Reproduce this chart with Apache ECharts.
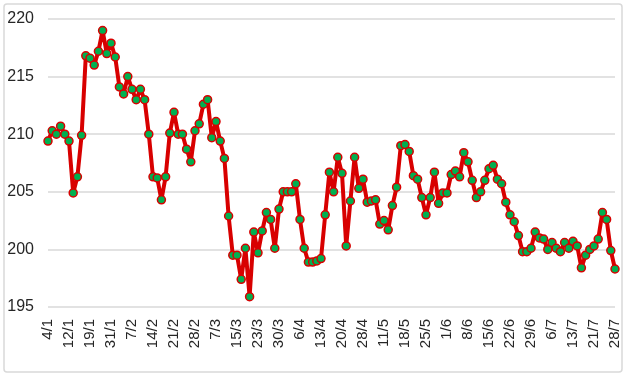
<!DOCTYPE html>
<html>
<head>
    <meta charset="UTF-8">
    <title>Weight</title>
    <script src="https://cdn.jsdelivr.net/npm/echarts@6/dist/echarts.min.js"></script>
    <style>
        body { margin: 0; background: #fff; }
        #chart { width: 628px; height: 376px; }
    </style>
</head>
<body>
    <div id="chart"></div>
    <script>
        // tick labels shown every 5th reading
        var tickLabels = ['4/1', '12/1', '19/1', '31/1', '7/2', '14/2', '21/2', '28/2', '7/3', '15/3',
            '23/3', '30/3', '6/4', '13/4', '20/4', '28/4', '11/5', '18/5', '25/5', '1/6',
            '8/6', '15/6', '22/6', '29/6', '6/7', '13/7', '21/7', '28/7'];

        // readings
        var weights = [
            209.4, 210.3, 210.0, 210.7, 210.0, 209.4, 204.9, 206.3, 209.9, 216.8,
            216.6, 216.0, 217.2, 219.0, 217.0, 217.9, 216.7, 214.1, 213.5, 215.0,
            213.9, 213.0, 213.9, 213.0, 210.0, 206.3, 206.2, 204.3, 206.3, 210.1,
            211.9, 210.0, 210.0, 208.7, 207.6, 210.3, 210.9, 212.6, 213.0, 209.7,
            211.1, 209.4, 207.9, 202.9, 199.5, 199.5, 197.4, 200.1, 195.9, 201.5,
            199.7, 201.6, 203.2, 202.6, 200.1, 203.5, 205.0, 205.0, 205.0, 205.7,
            202.6, 200.1, 198.9, 198.9, 199.0, 199.2, 203.0, 206.7, 205.0, 208.0,
            206.6, 200.3, 204.2, 208.0, 205.3, 206.1, 204.1, 204.2, 204.3, 202.2,
            202.5, 201.7, 203.8, 205.4, 209.0, 209.1, 208.5, 206.4, 206.1, 204.5,
            203.0, 204.5, 206.7, 204.0, 204.9, 204.9, 206.5, 206.8, 206.3, 208.4,
            207.6, 206.0, 204.5, 205.0, 206.0, 207.0, 207.3, 206.1, 205.7, 204.1,
            203.0, 202.4, 201.2, 199.8, 199.8, 200.1, 201.5, 201.0, 200.9, 200.0,
            200.6, 200.1, 199.8, 200.6, 200.1, 200.7, 200.3, 198.4, 199.5, 200.0,
            200.3, 200.9, 203.2, 202.6, 199.9, 198.3
        ];

        var categories = weights.map(function (_, i) {
            return i % 5 === 0 ? tickLabels[i / 5] : '';
        });

        var myChart = echarts.init(document.getElementById('chart'));
        var font = 'Arial, "Liberation Sans", sans-serif';

        var option = {
            animation: false,
            graphic: [{
                type: 'rect',
                shape: { x: 4, y: 4, width: 618, height: 368, r: 3 },
                style: { fill: 'none', stroke: '#d9d9d9', lineWidth: 1.5 },
                silent: true
            }],
            grid: { left: 48, right: 13, top: 19, bottom: 69, containLabel: false },
            xAxis: {
                type: 'category',
                data: categories,
                boundaryGap: false,
                axisLine: { show: false },
                axisTick: { show: false },
                axisLabel: {
                    interval: 4,
                    rotate: 90,
                    margin: 12,
                    fontSize: 15,
                    color: '#262626',
                    fontFamily: font
                },
                splitLine: { show: false }
            },
            yAxis: {
                type: 'value',
                min: 195,
                max: 220,
                interval: 5,
                axisLine: { show: false },
                axisTick: { show: false },
                axisLabel: { fontSize: 16, color: '#262626', margin: 14, fontFamily: font },
                splitLine: { lineStyle: { color: '#d9d9d9', width: 1.5 } }
            },
            series: [{
                type: 'line',
                data: weights,
                symbol: 'circle',
                symbolSize: 8,
                showAllSymbol: true,
                lineStyle: { color: '#d80000', width: 4 },
                itemStyle: { color: '#00b050', borderColor: '#d80000', borderWidth: 1.5 }
            }]
        };
        myChart.setOption(option);
    </script>
</body>
</html>
